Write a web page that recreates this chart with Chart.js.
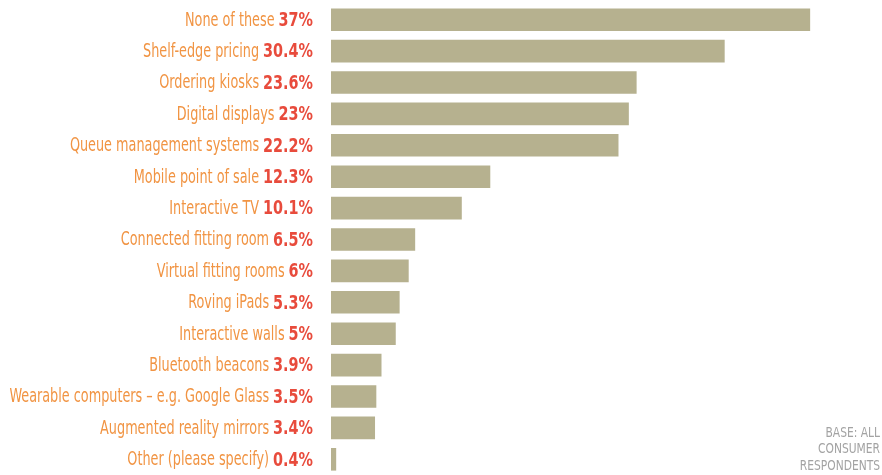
<!DOCTYPE html>
<html>
<head>
<meta charset="utf-8">
<script src="https://cdn.jsdelivr.net/npm/chart.js@4"></script>
<style>
  body { margin: 0; background: #fff; }
  #wrap { width: 882px; height: 475px; position: relative; }
</style>
</head>
<body>
<div id="wrap"><canvas id="myChart" width="882" height="475"></canvas></div>
<script>
const categories = [
  "None of these",
  "Shelf-edge pricing",
  "Ordering kiosks",
  "Digital displays",
  "Queue management systems",
  "Mobile point of sale",
  "Interactive TV",
  "Connected fitting room",
  "Virtual fitting rooms",
  "Roving iPads",
  "Interactive walls",
  "Bluetooth beacons",
  "Wearable computers \u2013 e.g. Google Glass",
  "Augmented reality mirrors",
  "Other (please specify)",
];
const values = [37, 30.4, 23.6, 23, 22.2, 12.3, 10.1, 6.5, 6, 5.3, 5, 3.9, 3.5, 3.4, 0.4];
const valueLabels = ["37%", "30.4%", "23.6%", "23%", "22.2%", "12.3%", "10.1%", "6.5%", "6%", "5.3%", "5%", "3.9%", "3.5%", "3.4%", "0.4%"];
const baseNote = ["BASE: ALL", "CONSUMER", "RESPONDENTS"];

const FONT = '"DejaVu Sans Condensed", "Liberation Sans Narrow", sans-serif';

// two-colour labels left of each bar
const labelPlugin = {
  id: "labels",
  afterDraw(chart) {
    const ctx = chart.ctx;
    const y = chart.scales.y;
    ctx.save();
    ctx.textBaseline = "middle";
    ctx.textAlign = "right";
    const right = 313;
    categories.forEach((name, i) => {
      const py = y.getPixelForValue(i) + 1;
      const val = valueLabels[i];
      // value, bold and a bit larger
      ctx.save();
      ctx.translate(right, py);
      ctx.scale(0.8, 1);
      ctx.font = "bold 20px " + FONT;
      const vw = ctx.measureText(val).width * 0.8;
      ctx.fillStyle = "#e84b3c";
      ctx.fillText(val, 0, 0);
      ctx.restore();
      // category name, narrow
      ctx.save();
      ctx.translate(right - vw - 4, py);
      ctx.scale(0.75, 1);
      ctx.font = "19px " + FONT;
      ctx.fillStyle = "#f19443";
      ctx.fillText(name, 0, 0);
      ctx.restore();
    });
    ctx.font = "14px " + FONT;
    ctx.fillStyle = "#a3a3a3";
    baseNote.forEach((t, i) => {
      ctx.save();
      ctx.translate(880, 433 + i * 16.5);
      ctx.scale(0.85, 1);
      ctx.fillText(t, 0, 0);
      ctx.restore();
    });
    ctx.restore();
  },
};

const newChart = document.getElementById("myChart").getContext("2d");
// eslint-disable-next-line no-undef
const myChart = new Chart(newChart, {
  type: "bar",
  data: {
    labels: categories,
    datasets: [
      {
        data: values,
        backgroundColor: "#b6b18f",
        borderWidth: 0,
        barPercentage: 0.72,
        categoryPercentage: 1,
      },
    ],
  },
  options: {
    indexAxis: "y",
    responsive: false,
    animation: false,
    layout: { padding: { left: 331, right: 33, top: 4, bottom: 0 } },
    plugins: { legend: { display: false }, tooltip: { enabled: false } },
    scales: {
      x: { min: 0, max: 40, display: false },
      y: { display: false },
    },
  },
  plugins: [labelPlugin],
});
</script>
</body>
</html>
